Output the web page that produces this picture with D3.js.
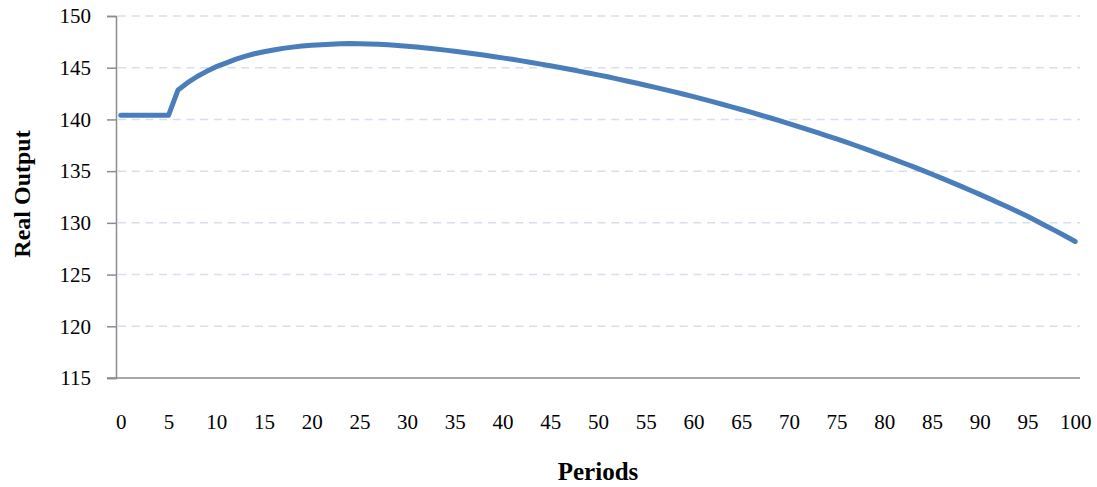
<!DOCTYPE html>
<html>
<head>
<meta charset="utf-8">
<script src="https://cdn.jsdelivr.net/npm/d3@7"></script>
<style>
  html, body { margin: 0; padding: 0; background: #fff; }
  svg { display: block; }
</style>
</head>
<body>
<svg id="chart" width="1097" height="487"></svg>
<script>
const periods = d3.range(0, 101);
const realOutput = [
  140.4, 140.4, 140.4, 140.4, 140.4, 140.4, 142.85, 143.55, 144.15, 144.65,
  145.1, 145.45, 145.8, 146.1, 146.35, 146.55, 146.72, 146.87, 146.99, 147.09,
  147.17, 147.23, 147.28, 147.31, 147.33, 147.32, 147.3, 147.26, 147.21, 147.15,
  147.08, 147.0, 146.91, 146.81, 146.7, 146.59, 146.47, 146.35, 146.22, 146.09,
  145.95, 145.81, 145.66, 145.51, 145.35, 145.19, 145.02, 144.85, 144.67, 144.49,
  144.31, 144.12, 143.92, 143.72, 143.52, 143.31, 143.1, 142.88, 142.66, 142.43,
  142.2, 141.96, 141.72, 141.47, 141.22, 140.96, 140.7, 140.43, 140.16, 139.88,
  139.6, 139.31, 139.02, 138.72, 138.42, 138.11, 137.8, 137.48, 137.15, 136.82,
  136.48, 136.14, 135.79, 135.43, 135.07, 134.7, 134.32, 133.94, 133.55, 133.15,
  132.75, 132.34, 131.92, 131.5, 131.07, 130.63, 130.15, 129.68, 129.2, 128.7,
  128.2
];
const yTicks = [115, 120, 125, 130, 135, 140, 145, 150];
const xTickLabels = d3.range(0, 101, 5);
const xTitle = "Periods";
const yTitle = "Real Output";

const svg = d3.select("#chart");
const mLeft = 116, mRight = 1080, mTop = 16, mBottom = 378;
const serif = "'Liberation Serif', 'DejaVu Serif', serif";

const x = d3.scalePoint().domain(periods).range([mLeft, mRight]).padding(0.5);
const y = d3.scaleLinear().domain([115, 150]).range([mBottom, mTop]);

// gridlines
svg.append("g").selectAll("line")
  .data(yTicks.filter(d => d > 115))
  .join("line")
  .attr("x1", mLeft + 2).attr("x2", mRight)
  .attr("y1", d => y(d)).attr("y2", d => y(d))
  .attr("stroke", "#d6dff0").attr("stroke-width", 1.5)
  .attr("stroke-dasharray", "8,5.7");

// y axis
const yAxis = d3.axisLeft(y).tickValues(yTicks).tickSize(9).tickPadding(16).tickFormat(d3.format("d"));
const gy = svg.append("g").attr("transform", `translate(${mLeft},0)`).call(yAxis);
gy.select(".domain").attr("stroke", "#8c8c8c").attr("stroke-width", 1.5);
gy.selectAll(".tick line").attr("stroke", "#8c8c8c").attr("stroke-width", 1.5);
gy.selectAll(".tick text")
  .attr("font-family", serif)
  .attr("font-size", 21).attr("fill", "#000");

// x axis
const xAxis = d3.axisBottom(x).tickValues(xTickLabels).tickSize(0).tickPadding(36);
const gx = svg.append("g").attr("transform", `translate(0,${mBottom})`).call(xAxis);
gx.select(".domain").attr("d", `M${mLeft - 9},0H${mRight}`).attr("stroke", "#8c8c8c").attr("stroke-width", 1.5);
gx.selectAll(".tick text")
  .attr("font-family", serif)
  .attr("font-size", 21).attr("fill", "#000");

// line
const line = d3.line().x((d, i) => x(periods[i])).y(d => y(d));
svg.append("path")
  .datum(realOutput)
  .attr("d", line)
  .attr("fill", "none")
  .attr("stroke", "#4a7ebb")
  .attr("stroke-width", 5)
  .attr("stroke-linejoin", "round")
  .attr("stroke-linecap", "round");

// titles
svg.append("text")
  .attr("x", 598).attr("y", 480)
  .attr("text-anchor", "middle")
  .attr("font-family", serif)
  .attr("font-weight", "bold").attr("font-size", 25)
  .text(xTitle);

svg.append("text")
  .attr("transform", `translate(30,194) rotate(-90)`)
  .attr("text-anchor", "middle")
  .attr("font-family", serif)
  .attr("font-weight", "bold").attr("font-size", 24)
  .text(yTitle);
</script>
</body>
</html>
